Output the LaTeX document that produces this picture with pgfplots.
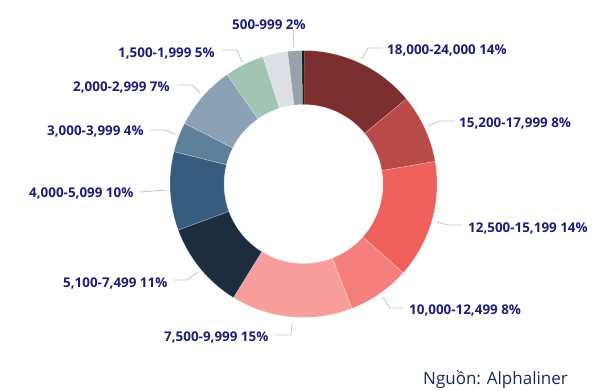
\documentclass[border=0pt]{standalone}
\usepackage{pgfplots}
\pgfplotsset{compat=1.18}
\usepackage{pgfplotstable}
\usepackage{fontspec}
\setmainfont{Open Sans}
\definecolor{c1}{HTML}{7A2E2E}
\definecolor{c2}{HTML}{B84B48}
\definecolor{c3}{HTML}{F0615E}
\definecolor{c4}{HTML}{F47F7C}
\definecolor{c5}{HTML}{F89F9D}
\definecolor{c6}{HTML}{1C2D40}
\definecolor{c7}{HTML}{365B7C}
\definecolor{c8}{HTML}{5E7F9A}
\definecolor{c9}{HTML}{8AA1B6}
\definecolor{c10}{HTML}{A0C5B3}
\definecolor{c11}{HTML}{DDE0E5}
\definecolor{c12}{HTML}{9AA2AC}
\definecolor{c13}{HTML}{1A1A1A}
\definecolor{lab}{HTML}{1E1E78}
\definecolor{src}{HTML}{1C2B5A}
\definecolor{lead}{HTML}{C4C4C4}
\pgfplotstableread{
pct col
14.0 c1
8.3 c2
14.3 c3
7.5 c4
14.7 c5
10.6 c6
9.5 c7
3.6 c8
7.8 c9
4.8 c10
3.0 c11
1.7 c12
0.3 c13
}\data
\begin{document}
\begin{tikzpicture}
\begin{axis}[hide axis, clip=false, x=1bp, y=1bp, xmin=0, xmax=597, ymin=0, ymax=390, scale only axis]
\path[fill=white] (axis cs:0,0) rectangle (axis cs:597,390);
\pgfplotstablegetrowsof{\data}
\pgfmathtruncatemacro\N{\pgfplotsretval-1}
\def\cum{0}
\pgfplotsforeachungrouped \i in {0,...,\N}{%
  \pgfplotstablegetelem{\i}{pct}\of\data \let\p\pgfplotsretval
  \pgfplotstablegetelem{\i}{col}\of\data \let\c\pgfplotsretval
  \pgfmathsetmacro\aA{90-3.6*\cum}%
  \pgfmathsetmacro\cum{\cum+\p}%
  \pgfmathsetmacro\aB{90-3.6*\cum}%
  \edef\tmp{\noexpand\fill[\c, draw=white, draw opacity=0.35, line width=0.5pt] (axis cs:303.5,206) ++(\aA:133.5bp) arc[start angle=\aA, end angle=\aB, radius=133.5bp] -- ++(\aB:-54bp) arc[start angle=\aB, end angle=\aA, radius=79.5bp] -- cycle;}%
  \tmp
}
% leader lines
\begin{scope}[lead, line width=0.8pt]
\draw (axis cs:293,361) -- (axis cs:294,342);
\draw (axis cs:362,331) -- (axis cs:368,342) -- (axis cs:382,342);
\draw (axis cs:428,264) -- (axis cs:440,269) -- (axis cs:455,269);
\draw (axis cs:437,168) -- (axis cs:448,165) -- (axis cs:462,165);
\draw (axis cs:383,93) -- (axis cs:390,82) -- (axis cs:403,82);
\draw (axis cs:292,67) -- (axis cs:291,55) -- (axis cs:275,55);
\draw (axis cs:198,118) -- (axis cs:187,110) -- (axis cs:173,110);
\draw (axis cs:140,198) -- (axis cs:167,200);
\draw (axis cs:150,260) -- (axis cs:165,260) -- (axis cs:175,256);
\draw (axis cs:177,305) -- (axis cs:192,305) -- (axis cs:200,297);
\draw (axis cs:222,340) -- (axis cs:237,340) -- (axis cs:242,328);
\end{scope}
% labels
\begin{scope}[every node/.style={lab, inner sep=0pt, anchor=base west, font=\fontsize{13.4bp}{15bp}\selectfont\bfseries}]
\node at (axis cs:232,361) {500-999 2\%};
\node at (axis cs:387,336) {18,000-24,000 14\%};
\node at (axis cs:459,263) {15,200-17,999 8\%};
\node at (axis cs:468,158) {12,500-15,199 14\%};
\node at (axis cs:409,76) {10,000-12,499 8\%};
\node at (axis cs:164,49) {7,500-9,999 15\%};
\node at (axis cs:63,103) {5,100-7,499 11\%};
\node at (axis cs:29,193) {4,000-5,099 10\%};
\node at (axis cs:47,255) {3,000-3,999 4\%};
\node at (axis cs:73,299) {2,000-2,999 7\%};
\node at (axis cs:118,333) {1,500-1,999 5\%};
\end{scope}
\node[src, inner sep=0pt, anchor=base west, font=\fontsize{17bp}{20bp}\selectfont] at (axis cs:423,6) {Nguồn: Alphaliner};
\end{axis}
\end{tikzpicture}
\end{document}
